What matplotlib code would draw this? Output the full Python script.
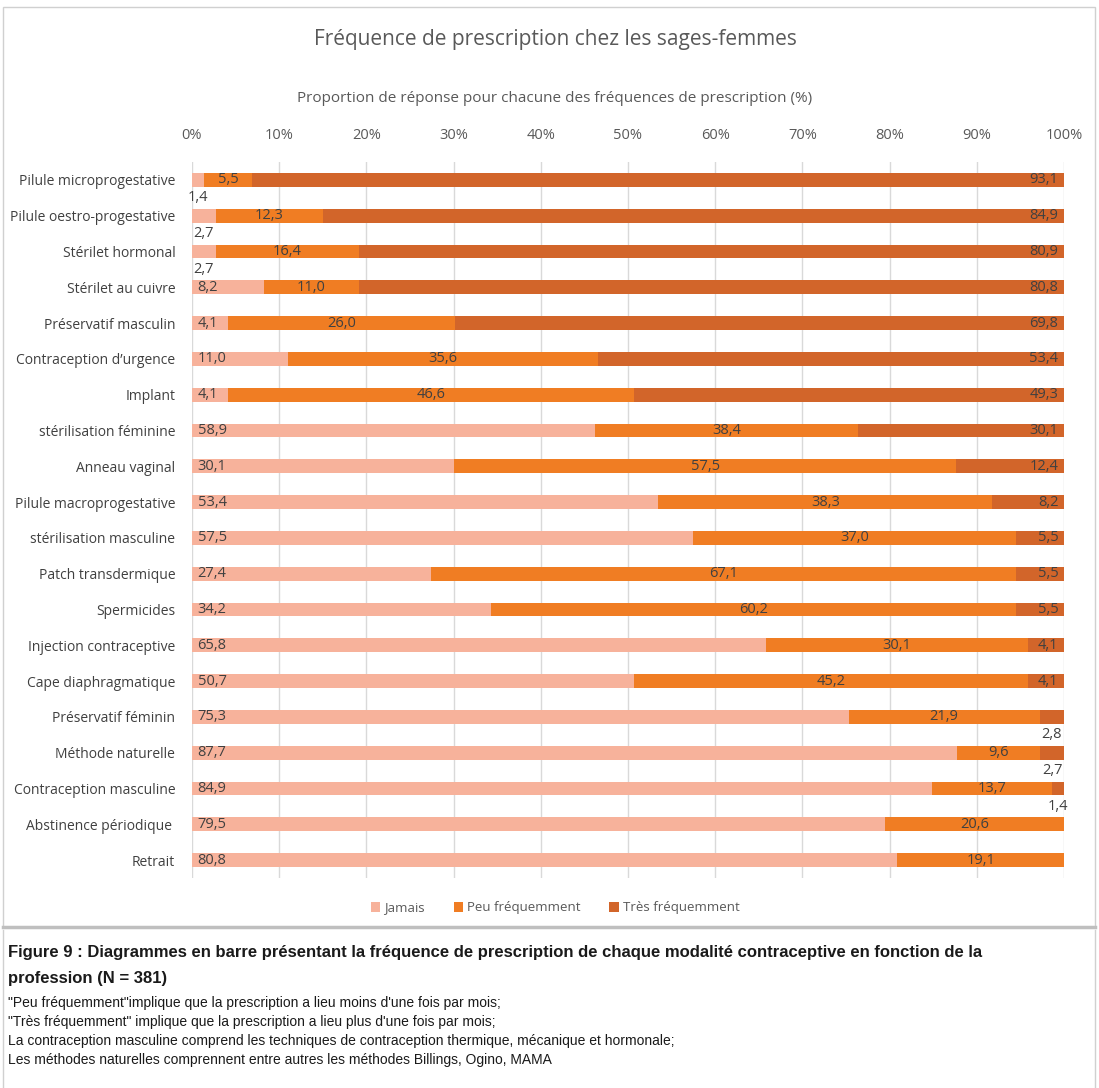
import matplotlib
matplotlib.use("Agg")
import matplotlib.pyplot as plt
import numpy as np
from matplotlib.patches import Patch, Rectangle
from matplotlib.ticker import PercentFormatter
from matplotlib.lines import Line2D

categories = [
    "Pilule microprogestative", "Pilule oestro-progestative", "Stérilet hormonal",
    "Stérilet au cuivre", "Préservatif masculin", "Contraception d\u2019urgence",
    "Implant", "stérilisation féminine", "Anneau vaginal", "Pilule macroprogestative",
    "stérilisation masculine", "Patch transdermique", "Spermicides",
    "Injection contraceptive", "Cape diaphragmatique", "Préservatif féminin",
    "Méthode naturelle", "Contraception masculine", "Abstinence périodique ", "Retrait",
]
jamais = [1.4, 2.7, 2.7, 8.2, 4.1, 11.0, 4.1, 58.9, 30.1, 53.4,
          57.5, 27.4, 34.2, 65.8, 50.7, 75.3, 87.7, 84.9, 79.5, 80.8]
peu = [5.5, 12.3, 16.4, 11.0, 26.0, 35.6, 46.6, 38.4, 57.5, 38.3,
       37.0, 67.1, 60.2, 30.1, 45.2, 21.9, 9.6, 13.7, 20.6, 19.1]
tres = [93.1, 84.9, 80.9, 80.8, 69.8, 53.4, 49.3, 30.1, 12.4, 8.2,
        5.5, 5.5, 5.5, 4.1, 4.1, 2.8, 2.7, 1.4, 0.0, 0.0]
series_names = ["Jamais", "Peu fréquemment", "Très fréquemment"]
colors = ["#F7B29B", "#F07D23", "#D2652A"]

txt = "#404040"
font = ["Open Sans", "DejaVu Sans"]
caption_font = ["Liberation Sans", "DejaVu Sans"]
plt.rcParams["font.family"] = font

fig = plt.figure(figsize=(10.99, 10.88), dpi=100)
ax = fig.add_axes([192 / 1099, 1 - 878 / 1088, (1064 - 192) / 1099, (878 - 162) / 1088])

data = np.array([jamais, peu, tres])
totals = data.sum(axis=0)
shares = data / totals * 100
y = np.arange(len(categories))
left = np.zeros(len(categories))
for k in range(3):
    ax.barh(y, shares[k], left=left, height=0.38, color=colors[k], zorder=2)
    for i in range(len(categories)):
        v = data[k, i]
        if v == 0:
            continue
        label = f"{v:.1f}".replace(".", ",")
        start, w = left[i], shares[k, i]
        if v < 3:
            # too thin to hold the number: put it just under the bar
            ax.text(start + w / 2, i + 0.5, label, ha="center", va="center",
                    fontsize=10.5, color=txt, zorder=3)
        elif k == 0:
            ax.annotate(label, (start, i), xytext=(4, 0), textcoords="offset points",
                        ha="left", va="center", fontsize=10.5, color=txt, zorder=3)
        elif k == 1:
            ax.text(start + w / 2, i, label, ha="center", va="center",
                    fontsize=10.5, color=txt, zorder=3)
        else:
            ax.annotate(label, (start + w, i), xytext=(-4, 0), textcoords="offset points",
                        ha="right", va="center", fontsize=10.5, color=txt, zorder=3)
    left += shares[k]

ax.set_xlim(0, 100)
ax.set_ylim(len(categories) - 0.5, -0.5)
ax.set_yticks(y)
ax.set_yticklabels(categories, fontsize=10, color=txt)
ax.set_xticks(np.arange(0, 101, 10))
ax.xaxis.set_major_formatter(PercentFormatter(decimals=0))
ax.xaxis.tick_top()
ax.tick_params(axis="x", length=0, pad=14, labelsize=10.5, labelcolor="#595959")
ax.tick_params(axis="y", length=0, pad=12)
ax.grid(axis="x", color="#D9D9D9", linewidth=1, zorder=0)
for s in ax.spines.values():
    s.set_visible(False)

fig.text(0.505, 1 - 40 / 1088, "Fréquence de prescription chez les sages-femmes",
         ha="center", va="center", fontsize=15, color="#595959")
fig.text(0.505, 1 - 98 / 1088,
         "Proportion de réponse pour chacune des fréquences de prescription (%)",
         ha="center", va="center", fontsize=11, color="#595959")

handles = [Patch(facecolor=c, edgecolor="none") for c in colors]
fig.legend(handles, series_names, loc="center", bbox_to_anchor=(0.505, 1 - 908 / 1088),
           ncol=3, frameon=False, fontsize=9.5, handlelength=0.7, handleheight=0.7,
           handletextpad=0.3, columnspacing=2.2, labelcolor="#595959")

# chart frame and caption box
fig.add_artist(Rectangle((3 / 1099, 1 - 927 / 1088), 1092 / 1099, 920 / 1088,
                         transform=fig.transFigure, fill=False,
                         edgecolor="#D0D0D0", linewidth=1))
fig.add_artist(Line2D([3 / 1099, 1095 / 1099], [1 - 927 / 1088] * 2,
                      transform=fig.transFigure, color="#BFBFBF", linewidth=2.5))
fig.add_artist(Line2D([3 / 1099] * 2, [0, 1 - 930 / 1088],
                      transform=fig.transFigure, color="#D0D0D0", linewidth=1))
fig.add_artist(Line2D([1095 / 1099] * 2, [0, 1 - 930 / 1088],
                      transform=fig.transFigure, color="#D0D0D0", linewidth=1))

caption_title = [
    "Figure 9 : Diagrammes en barre présentant la fréquence de prescription de chaque "
    "modalité contraceptive en fonction de la",
    "profession (N = 381)",
]
caption_notes = [
    "\"Peu fréquemment\"implique que la prescription a lieu moins d'une fois par mois;",
    "\"Très fréquemment\" implique que la prescription a lieu plus d'une fois par mois;",
    "La contraception masculine comprend les techniques de contraception thermique, "
    "mécanique et hormonale;",
    "Les méthodes naturelles comprennent entre autres les méthodes Billings, Ogino, MAMA",
]
for j, line in enumerate(caption_title):
    fig.text(8 / 1099, 1 - (953 + 25 * j) / 1088, line, ha="left", va="center",
             fontsize=12, fontweight="bold", color="#1A1A1A", family=caption_font)
for j, line in enumerate(caption_notes):
    fig.text(8 / 1099, 1 - (1003 + 19 * j) / 1088, line, ha="left", va="center",
             fontsize=10, color="#1A1A1A", family=caption_font)

fig.savefig("out.png", dpi=100, facecolor="white")
